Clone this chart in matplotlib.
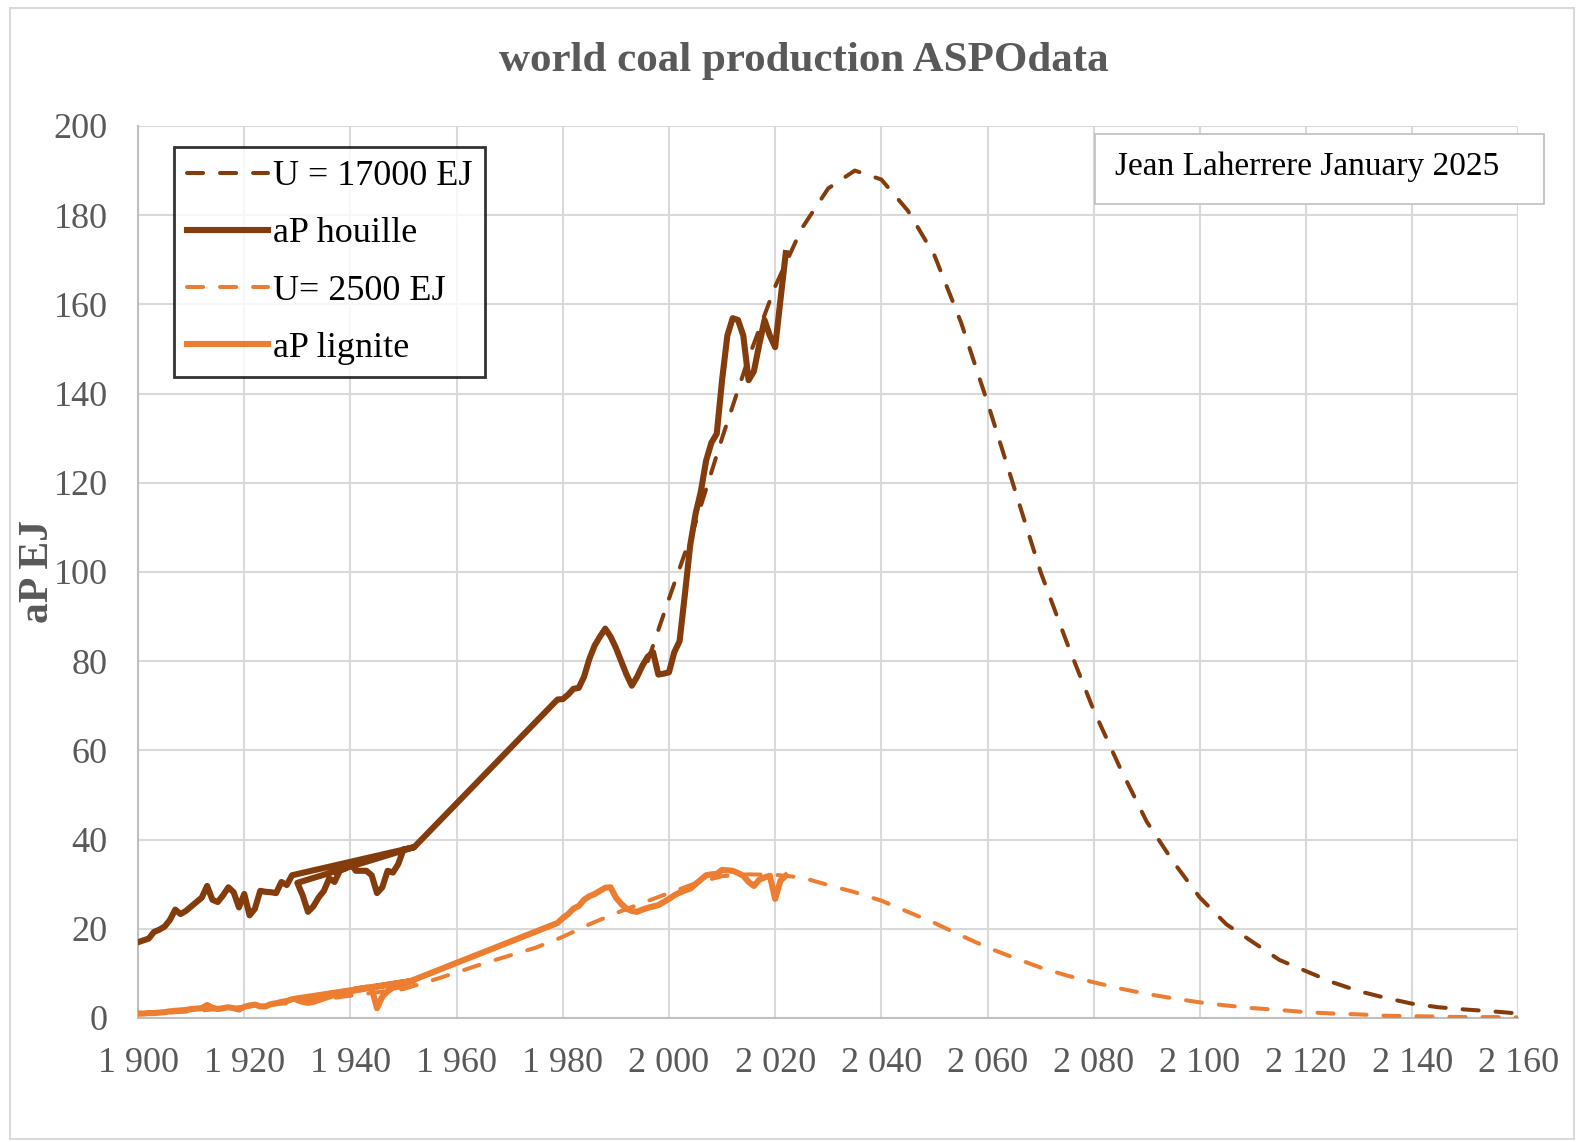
import matplotlib
matplotlib.use("Agg")
import matplotlib.pyplot as plt
from matplotlib.ticker import FuncFormatter, MultipleLocator
from matplotlib.patches import Rectangle

# aP houille (annual production, hard coal) - the source data repeats 1930-1952
houille_years = (list(range(1900, 1930)) + [1952] + list(range(1930, 1953))
                 + list(range(1979, 2023)))
houille_vals = [17.0, 17.4, 17.8, 19.3, 19.8, 20.5, 22.0, 24.3, 23.3, 24.0,
                25.0, 26.0, 27.0, 29.6, 26.5, 26.0, 27.5, 29.3, 28.2, 24.8,
                27.8, 23.0, 24.5, 28.5, 28.3, 28.2, 28.0, 30.5, 29.8, 32.0,
                38.3,
                30.3, 27.5, 23.8, 25.0, 27.0, 28.5, 31.3, 30.5, 33.0, 33.5,
                34.8, 33.0, 33.0, 33.0, 32.0, 28.0, 29.3, 33.0, 32.6, 34.5,
                37.8, 38.0, 38.3,
                71.4, 71.5, 72.5, 73.8, 74.0, 76.5, 80.5, 83.5, 85.5, 87.3,
                85.5, 83.0, 80.0, 77.0, 74.5, 76.5, 79.0, 81.0, 82.0, 77.0,
                77.2, 77.5, 82.0, 84.5, 95.0, 106.0, 113.0, 118.0, 125.0, 129.0,
                131.0, 143.0, 153.0, 156.9, 156.5, 153.0, 143.0, 145.0, 151.0, 156.5,
                153.0, 150.4, 161.0, 171.5]

# U = 17000 EJ model
u17000_years = [1996, 2000, 2005, 2010, 2015, 2020, 2025, 2030, 2035, 2040,
                2045, 2050, 2055, 2060, 2065, 2070, 2075, 2080, 2085, 2090,
                2095, 2100, 2105, 2110, 2115, 2120, 2125, 2130, 2135, 2140,
                2145, 2150, 2155, 2160]
u17000_vals = [80, 94, 111, 130, 148, 164, 177, 186, 190, 188,
               181, 171, 156, 138, 119, 100, 84, 69, 56, 44,
               35, 27, 21, 17, 13, 10.5, 8, 6, 4.5, 3.2,
               2.4, 1.9, 1.5, 1.0]

# aP lignite
lignite_years = (list(range(1900, 1930)) + [1952] + list(range(1930, 1953))
                 + list(range(1979, 2023)))
lignite_vals = [1.0, 1.0, 1.1, 1.1, 1.2, 1.3, 1.5, 1.6, 1.7, 1.8,
                2.0, 2.1, 2.2, 2.9, 2.3, 2.0, 2.2, 2.4, 2.2, 1.9,
                2.5, 2.8, 3.0, 2.6, 2.6, 3.1, 3.3, 3.6, 3.8, 4.2,
                8.4,
                4.0, 3.6, 3.4, 3.6, 4.0, 4.4, 4.8, 5.3, 5.3, 5.7,
                6.0, 6.4, 6.6, 6.8, 6.6, 2.2, 4.8, 6.0, 6.8, 7.0,
                7.6, 8.0, 8.6,
                21.3, 22.4, 23.3, 24.5, 25.1, 26.5, 27.3, 27.8, 28.5, 29.2,
                29.3, 27.0, 25.6, 24.5, 24.0, 23.8, 24.3, 24.7, 25.0, 25.3,
                26.0, 26.7, 27.5, 28.1, 28.6, 29.0, 30.0, 31.0, 32.0, 32.2,
                32.3, 33.2, 33.1, 33.0, 32.5, 31.9, 30.5, 29.6, 31.0, 31.5,
                31.9, 26.7, 30.8, 31.9]

# U = 2500 EJ model
u2500_years = [1900, 1910, 1920, 1930, 1940, 1950, 1955, 1960, 1965, 1970,
               1975, 1980, 1985, 1990, 1995, 2000, 2005, 2010, 2015, 2020,
               2025, 2030, 2035, 2040, 2045, 2050, 2055, 2060, 2065, 2070,
               2075, 2080, 2085, 2090, 2095, 2100, 2105, 2110, 2115, 2120,
               2125, 2130, 2135, 2140, 2145, 2150, 2155, 2160]
u2500_vals = [0.8, 1.5, 2.5, 3.5, 5.0, 6.5, 8.3, 10.2, 12.2, 14.0,
              15.8, 18.2, 21.0, 23.5, 25.8, 28.0, 30.2, 31.8, 32.2, 32.1,
              31.5, 29.8, 28.2, 26.3, 23.8, 21.3, 18.5, 15.8, 13.5, 11.3,
              9.5, 8.0, 6.6, 5.4, 4.4, 3.5, 2.8, 2.2, 1.8, 1.3,
              1.0, 0.8, 0.5, 0.4, 0.3, 0.2, 0.2, 0.1]

brown = "#843C0C"
orange = "#ED7D31"
grey_txt = "#595959"
serif = ["Liberation Serif", "DejaVu Serif"]

plt.rcParams["font.family"] = serif

fig = plt.figure(figsize=(15.8, 11.42), dpi=100)
ax = fig.add_axes([0.0874, 0.1086, 0.8736, 0.7811])

# outer chart frame
fig.patches.append(Rectangle((0.0065, 0.003), 0.99, 0.99, transform=fig.transFigure,
                             fill=False, edgecolor="#D9D9D9", lw=1.5))

ax.plot(u17000_years, u17000_vals, color=brown, lw=2.9, dashes=(4, 4.2),
        dash_capstyle="round", label="U = 17000 EJ", zorder=4)
ax.plot(houille_years, houille_vals, color=brown, lw=4.4,
        solid_joinstyle="round", label="aP houille", zorder=3)
ax.plot(u2500_years, u2500_vals, color=orange, lw=2.9, dashes=(4, 4.2),
        dash_capstyle="round", label="U= 2500 EJ", zorder=4)
ax.plot(lignite_years, lignite_vals, color=orange, lw=4.4,
        solid_joinstyle="round", label="aP lignite", zorder=3)

ax.set_xlim(1900, 2160)
ax.set_ylim(0, 200)
ax.xaxis.set_major_locator(MultipleLocator(20))
ax.yaxis.set_major_locator(MultipleLocator(20))
ax.xaxis.set_major_formatter(FuncFormatter(lambda v, p: f"{int(v):,}".replace(",", " ")))
ax.grid(True, color="#D9D9D9", lw=1.5)
ax.set_axisbelow(True)
for s in ["top", "right"]:
    ax.spines[s].set_visible(False)
for s in ["left", "bottom"]:
    ax.spines[s].set_color("#BFBFBF")
    ax.spines[s].set_linewidth(1.5)
ax.tick_params(length=0, labelsize=26, labelcolor=grey_txt)
ax.tick_params(axis="y", pad=22)
ax.tick_params(axis="x", pad=21)

ax.set_ylabel("aP EJ", fontsize=30, fontweight="bold", color=grey_txt)
ax.yaxis.set_label_coords(-0.059, 0.5)
fig.suptitle("world coal production ASPOdata", fontsize=31, fontweight="bold",
             color=grey_txt, x=0.509, y=0.963)

leg = ax.legend(loc="upper left", bbox_to_anchor=(0.026, 0.976), fontsize=26,
                frameon=True, fancybox=False, edgecolor="black", handlelength=2.25,
                handletextpad=0.15, borderpad=0.35, borderaxespad=0,
                labelspacing=0.66)
leg.get_frame().set_linewidth(2)

# author box
fig.patches.append(Rectangle((0.6932, 0.8217), 0.2838, 0.0609, transform=fig.transFigure,
                             facecolor="white", edgecolor="#BFBFBF", lw=1.2, zorder=5))
fig.text(0.706, 0.854, "Jean Laherrere January 2025", fontsize=24, color="black",
         va="center", ha="left", zorder=6)

fig.savefig("out.png", dpi=100)
